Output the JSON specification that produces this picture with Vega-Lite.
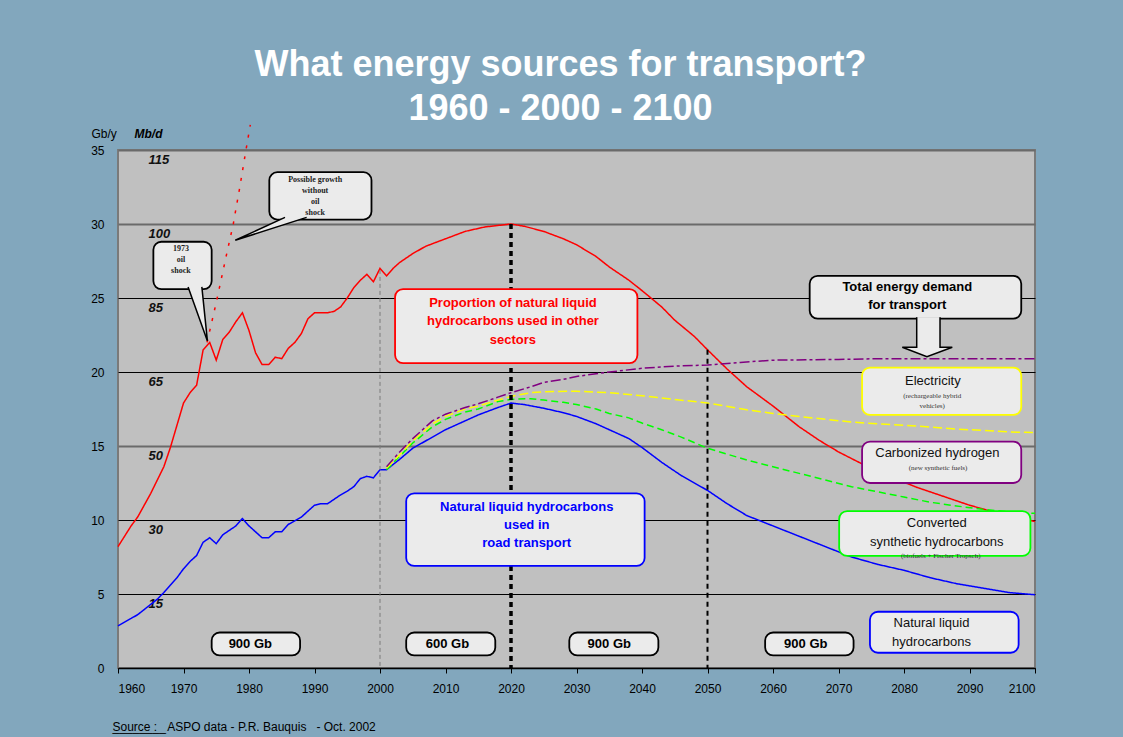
{
"$schema": "https://vega.github.io/schema/vega-lite/v6.json",
"width": 917, "height": 518,
"autosize": "none",
"padding": {"left": 118, "top": 150, "right": 88, "bottom": 69},
"background": "#82a7bd",
"config": {"view": {"fill": "#c0c0c0", "stroke": "#7a7a7a", "strokeWidth": 2}, "font": "Liberation Sans"},
"title": {"text": ["What energy sources for transport?", "1960 - 2000 - 2100"], "font": "Liberation Sans", "fontSize": 36, "fontWeight": "bold", "color": "white", "lineHeight": 44, "anchor": "middle", "frame": "group", "dx": -16, "offset": -6},
"datasets": {
"lines": [
{"year":1960,"gb":8.2,"series":"Total liquids"},{"year":1961,"gb":8.9,"series":"Total liquids"},{"year":1962,"gb":9.6,"series":"Total liquids"},{"year":1963,"gb":10.2,"series":"Total liquids"},{"year":1964,"gb":11.0,"series":"Total liquids"},{"year":1965,"gb":11.8,"series":"Total liquids"},{"year":1966,"gb":12.7,"series":"Total liquids"},{"year":1967,"gb":13.6,"series":"Total liquids"},{"year":1968,"gb":14.9,"series":"Total liquids"},{"year":1969,"gb":16.4,"series":"Total liquids"},{"year":1970,"gb":17.9,"series":"Total liquids"},{"year":1971,"gb":18.6,"series":"Total liquids"},{"year":1972,"gb":19.1,"series":"Total liquids"},{"year":1973,"gb":21.5,"series":"Total liquids"},{"year":1974,"gb":22.0,"series":"Total liquids"},{"year":1975,"gb":20.8,"series":"Total liquids"},{"year":1976,"gb":22.2,"series":"Total liquids"},{"year":1977,"gb":22.7,"series":"Total liquids"},{"year":1978,"gb":23.4,"series":"Total liquids"},{"year":1979,"gb":24.0,"series":"Total liquids"},{"year":1980,"gb":22.8,"series":"Total liquids"},{"year":1981,"gb":21.3,"series":"Total liquids"},{"year":1982,"gb":20.5,"series":"Total liquids"},{"year":1983,"gb":20.5,"series":"Total liquids"},{"year":1984,"gb":21.0,"series":"Total liquids"},{"year":1985,"gb":20.9,"series":"Total liquids"},{"year":1986,"gb":21.6,"series":"Total liquids"},{"year":1987,"gb":22.0,"series":"Total liquids"},{"year":1988,"gb":22.6,"series":"Total liquids"},{"year":1989,"gb":23.6,"series":"Total liquids"},{"year":1990,"gb":24.0,"series":"Total liquids"},{"year":1991,"gb":24.0,"series":"Total liquids"},{"year":1992,"gb":24.0,"series":"Total liquids"},{"year":1993,"gb":24.1,"series":"Total liquids"},{"year":1994,"gb":24.4,"series":"Total liquids"},{"year":1995,"gb":25.0,"series":"Total liquids"},{"year":1996,"gb":25.7,"series":"Total liquids"},{"year":1997,"gb":26.2,"series":"Total liquids"},{"year":1998,"gb":26.6,"series":"Total liquids"},{"year":1999,"gb":26.1,"series":"Total liquids"},{"year":2000,"gb":27.0,"series":"Total liquids"},{"year":2001,"gb":26.5,"series":"Total liquids"},{"year":2002,"gb":27.0,"series":"Total liquids"},{"year":2003,"gb":27.4,"series":"Total liquids"},{"year":2005,"gb":28.0,"series":"Total liquids"},{"year":2007,"gb":28.5,"series":"Total liquids"},{"year":2010,"gb":29.0,"series":"Total liquids"},{"year":2013,"gb":29.5,"series":"Total liquids"},{"year":2016,"gb":29.8,"series":"Total liquids"},{"year":2018,"gb":29.9,"series":"Total liquids"},{"year":2020,"gb":30.0,"series":"Total liquids"},{"year":2022,"gb":29.85,"series":"Total liquids"},{"year":2025,"gb":29.5,"series":"Total liquids"},{"year":2028,"gb":29.0,"series":"Total liquids"},{"year":2030,"gb":28.6,"series":"Total liquids"},{"year":2033,"gb":27.8,"series":"Total liquids"},{"year":2035,"gb":27.1,"series":"Total liquids"},{"year":2038,"gb":26.2,"series":"Total liquids"},{"year":2040,"gb":25.5,"series":"Total liquids"},{"year":2043,"gb":24.4,"series":"Total liquids"},{"year":2045,"gb":23.5,"series":"Total liquids"},{"year":2048,"gb":22.4,"series":"Total liquids"},{"year":2050,"gb":21.5,"series":"Total liquids"},{"year":2053,"gb":20.2,"series":"Total liquids"},{"year":2056,"gb":19.0,"series":"Total liquids"},{"year":2060,"gb":17.7,"series":"Total liquids"},{"year":2064,"gb":16.3,"series":"Total liquids"},{"year":2067,"gb":15.4,"series":"Total liquids"},{"year":2070,"gb":14.6,"series":"Total liquids"},{"year":2074,"gb":13.7,"series":"Total liquids"},{"year":2078,"gb":12.9,"series":"Total liquids"},{"year":2082,"gb":12.2,"series":"Total liquids"},{"year":2086,"gb":11.6,"series":"Total liquids"},{"year":2090,"gb":11.0,"series":"Total liquids"},{"year":2094,"gb":10.5,"series":"Total liquids"},{"year":2097,"gb":10.2,"series":"Total liquids"},{"year":2100,"gb":9.9,"series":"Total liquids"},
{"year":1960,"gb":2.85,"series":"Road transport"},{"year":1961,"gb":3.1,"series":"Road transport"},{"year":1962,"gb":3.35,"series":"Road transport"},{"year":1963,"gb":3.6,"series":"Road transport"},{"year":1964,"gb":3.95,"series":"Road transport"},{"year":1965,"gb":4.3,"series":"Road transport"},{"year":1966,"gb":4.65,"series":"Road transport"},{"year":1967,"gb":5.1,"series":"Road transport"},{"year":1968,"gb":5.6,"series":"Road transport"},{"year":1969,"gb":6.1,"series":"Road transport"},{"year":1970,"gb":6.7,"series":"Road transport"},{"year":1971,"gb":7.2,"series":"Road transport"},{"year":1972,"gb":7.6,"series":"Road transport"},{"year":1973,"gb":8.5,"series":"Road transport"},{"year":1974,"gb":8.8,"series":"Road transport"},{"year":1975,"gb":8.4,"series":"Road transport"},{"year":1976,"gb":9.0,"series":"Road transport"},{"year":1977,"gb":9.3,"series":"Road transport"},{"year":1978,"gb":9.6,"series":"Road transport"},{"year":1979,"gb":10.1,"series":"Road transport"},{"year":1980,"gb":9.6,"series":"Road transport"},{"year":1981,"gb":9.2,"series":"Road transport"},{"year":1982,"gb":8.8,"series":"Road transport"},{"year":1983,"gb":8.8,"series":"Road transport"},{"year":1984,"gb":9.2,"series":"Road transport"},{"year":1985,"gb":9.2,"series":"Road transport"},{"year":1986,"gb":9.7,"series":"Road transport"},{"year":1987,"gb":9.95,"series":"Road transport"},{"year":1988,"gb":10.2,"series":"Road transport"},{"year":1989,"gb":10.6,"series":"Road transport"},{"year":1990,"gb":11.0,"series":"Road transport"},{"year":1991,"gb":11.1,"series":"Road transport"},{"year":1992,"gb":11.1,"series":"Road transport"},{"year":1993,"gb":11.4,"series":"Road transport"},{"year":1994,"gb":11.7,"series":"Road transport"},{"year":1995,"gb":11.95,"series":"Road transport"},{"year":1996,"gb":12.25,"series":"Road transport"},{"year":1997,"gb":12.8,"series":"Road transport"},{"year":1998,"gb":12.95,"series":"Road transport"},{"year":1999,"gb":12.85,"series":"Road transport"},{"year":2000,"gb":13.4,"series":"Road transport"},{"year":2001,"gb":13.4,"series":"Road transport"},{"year":2003,"gb":14.1,"series":"Road transport"},{"year":2005,"gb":14.85,"series":"Road transport"},{"year":2008,"gb":15.6,"series":"Road transport"},{"year":2010,"gb":16.1,"series":"Road transport"},{"year":2013,"gb":16.7,"series":"Road transport"},{"year":2015,"gb":17.1,"series":"Road transport"},{"year":2018,"gb":17.6,"series":"Road transport"},{"year":2020,"gb":17.9,"series":"Road transport"},{"year":2022,"gb":17.8,"series":"Road transport"},{"year":2025,"gb":17.55,"series":"Road transport"},{"year":2028,"gb":17.25,"series":"Road transport"},{"year":2030,"gb":17.0,"series":"Road transport"},{"year":2033,"gb":16.5,"series":"Road transport"},{"year":2035,"gb":16.1,"series":"Road transport"},{"year":2038,"gb":15.5,"series":"Road transport"},{"year":2040,"gb":14.9,"series":"Road transport"},{"year":2043,"gb":13.9,"series":"Road transport"},{"year":2046,"gb":13.0,"series":"Road transport"},{"year":2050,"gb":12.0,"series":"Road transport"},{"year":2053,"gb":11.1,"series":"Road transport"},{"year":2056,"gb":10.3,"series":"Road transport"},{"year":2060,"gb":9.6,"series":"Road transport"},{"year":2064,"gb":8.9,"series":"Road transport"},{"year":2068,"gb":8.2,"series":"Road transport"},{"year":2072,"gb":7.5,"series":"Road transport"},{"year":2076,"gb":7.0,"series":"Road transport"},{"year":2080,"gb":6.6,"series":"Road transport"},{"year":2084,"gb":6.1,"series":"Road transport"},{"year":2088,"gb":5.7,"series":"Road transport"},{"year":2092,"gb":5.4,"series":"Road transport"},{"year":2096,"gb":5.1,"series":"Road transport"},{"year":2100,"gb":4.95,"series":"Road transport"},
{"year":2001,"gb":13.4,"series":"Converted synthetic"},{"year":2003,"gb":14.3,"series":"Converted synthetic"},{"year":2005,"gb":15.2,"series":"Converted synthetic"},{"year":2008,"gb":16.3,"series":"Converted synthetic"},{"year":2010,"gb":16.8,"series":"Converted synthetic"},{"year":2013,"gb":17.3,"series":"Converted synthetic"},{"year":2015,"gb":17.5,"series":"Converted synthetic"},{"year":2018,"gb":18.0,"series":"Converted synthetic"},{"year":2020,"gb":18.15,"series":"Converted synthetic"},{"year":2023,"gb":18.2,"series":"Converted synthetic"},{"year":2025,"gb":18.1,"series":"Converted synthetic"},{"year":2028,"gb":17.95,"series":"Converted synthetic"},{"year":2030,"gb":17.8,"series":"Converted synthetic"},{"year":2033,"gb":17.5,"series":"Converted synthetic"},{"year":2035,"gb":17.2,"series":"Converted synthetic"},{"year":2038,"gb":16.9,"series":"Converted synthetic"},{"year":2040,"gb":16.55,"series":"Converted synthetic"},{"year":2043,"gb":16.1,"series":"Converted synthetic"},{"year":2046,"gb":15.6,"series":"Converted synthetic"},{"year":2050,"gb":14.85,"series":"Converted synthetic"},{"year":2053,"gb":14.45,"series":"Converted synthetic"},{"year":2056,"gb":14.05,"series":"Converted synthetic"},{"year":2060,"gb":13.6,"series":"Converted synthetic"},{"year":2064,"gb":13.15,"series":"Converted synthetic"},{"year":2068,"gb":12.7,"series":"Converted synthetic"},{"year":2072,"gb":12.25,"series":"Converted synthetic"},{"year":2076,"gb":11.9,"series":"Converted synthetic"},{"year":2080,"gb":11.55,"series":"Converted synthetic"},{"year":2084,"gb":11.2,"series":"Converted synthetic"},{"year":2088,"gb":10.95,"series":"Converted synthetic"},{"year":2092,"gb":10.72,"series":"Converted synthetic"},{"year":2096,"gb":10.55,"series":"Converted synthetic"},{"year":2100,"gb":10.45,"series":"Converted synthetic"},
{"year":2001,"gb":13.5,"series":"Electricity"},{"year":2003,"gb":14.4,"series":"Electricity"},{"year":2005,"gb":15.35,"series":"Electricity"},{"year":2008,"gb":16.5,"series":"Electricity"},{"year":2010,"gb":17.0,"series":"Electricity"},{"year":2013,"gb":17.5,"series":"Electricity"},{"year":2015,"gb":17.7,"series":"Electricity"},{"year":2018,"gb":18.1,"series":"Electricity"},{"year":2020,"gb":18.35,"series":"Electricity"},{"year":2023,"gb":18.6,"series":"Electricity"},{"year":2025,"gb":18.67,"series":"Electricity"},{"year":2030,"gb":18.7,"series":"Electricity"},{"year":2035,"gb":18.6,"series":"Electricity"},{"year":2040,"gb":18.4,"series":"Electricity"},{"year":2045,"gb":18.15,"series":"Electricity"},{"year":2050,"gb":17.9,"series":"Electricity"},{"year":2056,"gb":17.45,"series":"Electricity"},{"year":2060,"gb":17.2,"series":"Electricity"},{"year":2064,"gb":17.0,"series":"Electricity"},{"year":2068,"gb":16.8,"series":"Electricity"},{"year":2072,"gb":16.62,"series":"Electricity"},{"year":2076,"gb":16.5,"series":"Electricity"},{"year":2080,"gb":16.4,"series":"Electricity"},{"year":2084,"gb":16.28,"series":"Electricity"},{"year":2088,"gb":16.15,"series":"Electricity"},{"year":2092,"gb":16.05,"series":"Electricity"},{"year":2096,"gb":15.95,"series":"Electricity"},{"year":2100,"gb":15.9,"series":"Electricity"},
{"year":2001,"gb":13.6,"series":"Total demand"},{"year":2003,"gb":14.6,"series":"Total demand"},{"year":2005,"gb":15.5,"series":"Total demand"},{"year":2008,"gb":16.7,"series":"Total demand"},{"year":2010,"gb":17.15,"series":"Total demand"},{"year":2013,"gb":17.6,"series":"Total demand"},{"year":2015,"gb":17.85,"series":"Total demand"},{"year":2018,"gb":18.3,"series":"Total demand"},{"year":2020,"gb":18.6,"series":"Total demand"},{"year":2023,"gb":19.0,"series":"Total demand"},{"year":2025,"gb":19.3,"series":"Total demand"},{"year":2028,"gb":19.5,"series":"Total demand"},{"year":2030,"gb":19.7,"series":"Total demand"},{"year":2035,"gb":20.0,"series":"Total demand"},{"year":2040,"gb":20.25,"series":"Total demand"},{"year":2045,"gb":20.4,"series":"Total demand"},{"year":2050,"gb":20.47,"series":"Total demand"},{"year":2055,"gb":20.65,"series":"Total demand"},{"year":2060,"gb":20.8,"series":"Total demand"},{"year":2065,"gb":20.82,"series":"Total demand"},{"year":2070,"gb":20.85,"series":"Total demand"},{"year":2076,"gb":20.9,"series":"Total demand"},{"year":2100,"gb":20.9,"series":"Total demand"},
{"year":1973.6,"gb":22.0,"series":"No oil shock"},{"year":1975,"gb":24.7,"series":"No oil shock"},{"year":1976.5,"gb":27.8,"series":"No oil shock"},{"year":1977.6,"gb":30.0,"series":"No oil shock"},{"year":1978.6,"gb":32.5,"series":"No oil shock"},{"year":1979.5,"gb":34.9,"series":"No oil shock"},{"year":1980.2,"gb":36.7,"series":"No oil shock"}
],
"boxes": [
{"kind":"callout","x1":1965.4,"x2":1974.3,"y1":28.8,"y2":25.6},
{"kind":"callout","x1":1983.1,"x2":1998.7,"y1":33.5,"y2":30.3},
{"kind":"other sectors","x1":2002.3,"x2":2039.3,"y1":25.6,"y2":20.6},
{"kind":"road transport","x1":2004.0,"x2":2040.4,"y1":11.8,"y2":6.9},
{"kind":"reserves","x1":1974.3,"x2":1987.8,"y1":2.4,"y2":0.85},
{"kind":"reserves","x1":2004.0,"x2":2017.6,"y1":2.4,"y2":0.85},
{"kind":"reserves","x1":2028.9,"x2":2042.5,"y1":2.4,"y2":0.85},
{"kind":"reserves","x1":2058.8,"x2":2072.3,"y1":2.4,"y2":0.85},
{"kind":"demand","x1":2065.6,"x2":2097.9,"y1":26.5,"y2":23.6},
{"kind":"electricity","x1":2073.6,"x2":2097.9,"y1":20.3,"y2":17.1},
{"kind":"hydrogen","x1":2073.6,"x2":2097.9,"y1":15.3,"y2":12.5},
{"kind":"synthetic","x1":2070.1,"x2":2099.3,"y1":10.6,"y2":7.57},
{"kind":"natural","x1":2074.8,"x2":2097.5,"y1":3.8,"y2":1.03}
],
"shapes": [
{"shape":"oil shock tail","i":0,"year":1970.7,"gb":25.75},{"shape":"oil shock tail","i":1,"year":1973.65,"gb":22.1},{"shape":"oil shock tail","i":2,"year":1972.8,"gb":25.75},
{"shape":"growth tail","i":0,"year":1985.5,"gb":30.45},{"shape":"growth tail","i":1,"year":1977.9,"gb":28.9},{"shape":"growth tail","i":2,"year":1988.8,"gb":30.45},
{"shape":"demand arrow","i":0,"year":2081.94,"gb":23.7},{"shape":"demand arrow","i":1,"year":2081.94,"gb":21.67},{"shape":"demand arrow","i":2,"year":2079.74,"gb":21.67},{"shape":"demand arrow","i":3,"year":2083.5,"gb":21.03},{"shape":"demand arrow","i":4,"year":2087.37,"gb":21.67},{"shape":"demand arrow","i":5,"year":2085.5,"gb":21.67},{"shape":"demand arrow","i":6,"year":2085.5,"gb":23.7}
]
},
"layer": [
{
"data": {"name": "lines"},
"mark": {"type": "line", "strokeCap": "butt"},
"encoding": {
"x": {"field": "year", "type": "quantitative", "scale": {"domain": [1960, 2100], "nice": false},
"axis": {"values": [1960,1970,1980,1990,2000,2010,2020,2030,2040,2050,2060,2070,2080,2090,2100], "format": "d", "grid": false, "domainColor": "black", "domainWidth": 1.5, "tickColor": "black", "tickSize": 5, "labelFontSize": 12, "labelColor": "black", "labelPadding": 10, "labelFont": "Liberation Sans",
"title": "Source :\u00a0\u00a0\u00a0ASPO data - P.R. Bauquis\u00a0\u00a0\u00a0- Oct. 2002", "titleFont": "Liberation Sans", "titleFontSize": 12, "titleFontWeight": "normal", "titleColor": "black", "titleX": -6, "titleY": 58, "titleAlign": "left", "titleAnchor": "start", "titleBaseline": "middle"}},
"y": {"field": "gb", "type": "quantitative", "scale": {"domain": [0, 35], "nice": false},
"axis": {"values": [0,5,10,15,20,25,30,35], "grid": true,
"gridColor": {"condition": {"test": "datum.value == 15 || datum.value == 30 || datum.value == 35", "value": "#6a6a6a"}, "value": "black"},
"gridWidth": {"condition": {"test": "datum.value == 15 || datum.value == 30 || datum.value == 35", "value": 2}, "value": 1},
"ticks": false, "tickSize": 0, "domain": false, "labelPadding": 14, "labelFontSize": 12, "labelColor": "black", "labelFont": "Liberation Sans",
"title": "Gb/y", "titleAngle": 0, "titleX": -27, "titleY": -17, "titleAlign": "left", "titleBaseline": "middle", "titleFont": "Liberation Sans", "titleFontSize": 12, "titleFontWeight": "normal", "titleColor": "black"}},
"color": {"field": "series", "type": "nominal", "legend": null, "scale": {"domain": ["Total liquids","Road transport","Converted synthetic","Electricity","Total demand","No oil shock"], "range": ["#ff0000","#0000ff","#00ff00","#ffff00","#800080","#ff0000"]}},
"strokeDash": {"field": "series", "type": "nominal", "legend": null, "scale": {"domain": ["Total liquids","Road transport","Converted synthetic","Electricity","Total demand","No oil shock"], "range": [[1,0],[1,0],[7,4],[9,4],[10,3,3,3],[3,8]]}},
"strokeWidth": {"field": "series", "type": "nominal", "legend": null, "scale": {"domain": ["Total liquids","Road transport","Converted synthetic","Electricity","Total demand","No oil shock"], "range": [1.5,1.5,3,3,3.3,3]}}
}
},
{
"layer": [
{"data": {"values": [{"year": 2000, "top": 26.9}]},
"mark": {"type": "rule", "color": "#7a7a7a", "strokeWidth": 1, "strokeDash": [4,3]},
"encoding": {
"x": {"field": "year", "type": "quantitative", "scale": {"domain": [1960, 2100], "nice": false},
"axis": {"orient": "bottom", "labels": false, "ticks": false, "domain": false, "grid": false,
"title": "________", "titleFont": "Liberation Sans", "titleFontSize": 12, "titleFontWeight": "normal", "titleColor": "black", "titleX": -6, "titleY": 58, "titleAlign": "left", "titleAnchor": "start", "titleBaseline": "middle"}},
"y": {"field": "top", "type": "quantitative", "scale": {"domain": [0, 35], "nice": false},
"axis": {"orient": "left", "offset": -30, "values": [35,30,25,20,15,10,5],
"labelExpr": "datum.value == 35 ? '115' : datum.value == 30 ? '100' : datum.value == 25 ? '85' : datum.value == 20 ? '65' : datum.value == 15 ? '50' : datum.value == 10 ? '30' : '15'",
"grid": false, "ticks": false, "tickSize": 0, "domain": false, "labelAlign": "left", "labelBaseline": "top", "labelPadding": 0, "labelOffset": 3, "labelFont": "Liberation Sans", "labelFontSize": 13, "labelFontStyle": "italic", "labelFontWeight": "bold", "labelColor": "#111111",
"title": "Mb/d", "titleAngle": 0, "titleX": -14, "titleY": -17, "titleAlign": "left", "titleBaseline": "middle", "titleFont": "Liberation Sans", "titleFontSize": 12, "titleFontStyle": "italic", "titleFontWeight": "bold", "titleColor": "black"}},
"y2": {"datum": 0}}},
{"data": {"values": [{"year": 2020, "top": 30}]},
"mark": {"type": "rule", "color": "black", "strokeWidth": 3.5, "strokeDash": [5,4]},
"encoding": {"x": {"field": "year", "type": "quantitative"}, "y": {"field": "top", "type": "quantitative"}, "y2": {"datum": 0}}},
{"data": {"values": [{"year": 2050, "top": 21.5}]},
"mark": {"type": "rule", "color": "black", "strokeWidth": 2, "strokeDash": [5,4]},
"encoding": {"x": {"field": "year", "type": "quantitative"}, "y": {"field": "top", "type": "quantitative"}, "y2": {"datum": 0}}}
]
},
{
"layer": [
{"data": {"name": "boxes"},
"mark": {"type": "rect", "fill": "#ebebeb", "cornerRadius": 8, "strokeWidth": 1.8},
"encoding": {
"x": {"field": "x1", "type": "quantitative", "scale": {"domain": [1960, 2100], "nice": false}, "axis": null},
"x2": {"field": "x2"},
"y": {"field": "y1", "type": "quantitative", "scale": {"domain": [0, 35], "nice": false}, "axis": null},
"y2": {"field": "y2"},
"stroke": {"field": "kind", "type": "nominal", "legend": null, "scale": {"domain": ["callout","other sectors","road transport","reserves","demand","electricity","hydrogen","synthetic","natural"], "range": ["#000000","#ff0000","#0000ff","#000000","#000000","#ffff00","#800080","#00ff00","#0000ff"]}}}},
{"data": {"name": "shapes"},
"mark": {"type": "line", "fill": "#ebebeb", "stroke": "black", "strokeWidth": 1.5, "strokeJoin": "miter"},
"encoding": {
"x": {"field": "year", "type": "quantitative", "axis": null},
"y": {"field": "gb", "type": "quantitative", "axis": null},
"detail": {"field": "shape", "type": "nominal"},
"order": {"field": "i", "type": "quantitative"}}},
{"data": {"values": [
{"year": 1980.2, "gb": 1.62, "text": "900 Gb"},
{"year": 2010.3, "gb": 1.62, "text": "600 Gb"},
{"year": 2035.0, "gb": 1.62, "text": "900 Gb"},
{"year": 2065.0, "gb": 1.62, "text": "900 Gb"},
{"year": 2080.5, "gb": 25.74, "text": "Total energy demand\nfor transport"}]},
"mark": {"type": "text", "font": "Liberation Sans", "fontSize": 13, "fontWeight": "bold", "color": "black", "lineBreak": "\n", "lineHeight": 18, "baseline": "middle"},
"encoding": {"x": {"field": "year", "type": "quantitative", "axis": null}, "y": {"field": "gb", "type": "quantitative", "axis": null}, "text": {"field": "text"}}},
{"data": {"values": [{"year": 2020.3, "gb": 24.68, "text": "Proportion of natural liquid\nhydrocarbons used in other\nsectors"}]},
"mark": {"type": "text", "font": "Liberation Sans", "fontSize": 13, "fontWeight": "bold", "color": "#ff0000", "lineBreak": "\n", "lineHeight": 18.5, "baseline": "middle"},
"encoding": {"x": {"field": "year", "type": "quantitative", "axis": null}, "y": {"field": "gb", "type": "quantitative", "axis": null}, "text": {"field": "text"}}},
{"data": {"values": [{"year": 2022.4, "gb": 10.9, "text": "Natural liquid hydrocarbons\nused in\nroad transport"}]},
"mark": {"type": "text", "font": "Liberation Sans", "fontSize": 13, "fontWeight": "bold", "color": "#0000ff", "lineBreak": "\n", "lineHeight": 18, "baseline": "middle"},
"encoding": {"x": {"field": "year", "type": "quantitative", "axis": null}, "y": {"field": "gb", "type": "quantitative", "axis": null}, "text": {"field": "text"}}},
{"data": {"values": [
{"year": 2084.4, "gb": 19.41, "text": "Electricity"},
{"year": 2085.1, "gb": 14.5, "text": "Carbonized hydrogen"},
{"year": 2085.0, "gb": 9.82, "text": "Converted\nsynthetic hydrocarbons"},
{"year": 2084.2, "gb": 3.06, "text": "Natural liquid\nhydrocarbons"}]},
"mark": {"type": "text", "font": "Liberation Sans", "fontSize": 13, "color": "#111111", "lineBreak": "\n", "lineHeight": 19, "baseline": "middle"},
"encoding": {"x": {"field": "year", "type": "quantitative", "axis": null}, "y": {"field": "gb", "type": "quantitative", "axis": null}, "text": {"field": "text"}}},
{"data": {"values": [
{"year": 1969.6, "gb": 28.31, "text": "1973\noil\nshock"},
{"year": 1990.1, "gb": 32.97, "text": "Possible growth\nwithout\noil\nshock"}]},
"mark": {"type": "text", "font": "Liberation Serif", "fontSize": 8, "fontWeight": "bold", "color": "#222222", "lineBreak": "\n", "lineHeight": 11, "baseline": "middle"},
"encoding": {"x": {"field": "year", "type": "quantitative", "axis": null}, "y": {"field": "gb", "type": "quantitative", "axis": null}, "text": {"field": "text"}}},
{"data": {"values": [
{"year": 2084.3, "gb": 18.4, "text": "(rechargeable hybrid\nvehicles)"},
{"year": 2085.2, "gb": 13.53, "text": "(new synthetic fuels)"},
{"year": 2085.6, "gb": 7.57, "text": "(biofuels + Fischer Tropsch)"}]},
"mark": {"type": "text", "font": "Liberation Serif", "fontSize": 7, "color": "#333333", "lineBreak": "\n", "lineHeight": 10.5, "baseline": "middle"},
"encoding": {"x": {"field": "year", "type": "quantitative", "axis": null}, "y": {"field": "gb", "type": "quantitative", "axis": null}, "text": {"field": "text"}}}
]
}
],
"resolve": {"axis": {"y": "independent", "x": "independent"}}
}
